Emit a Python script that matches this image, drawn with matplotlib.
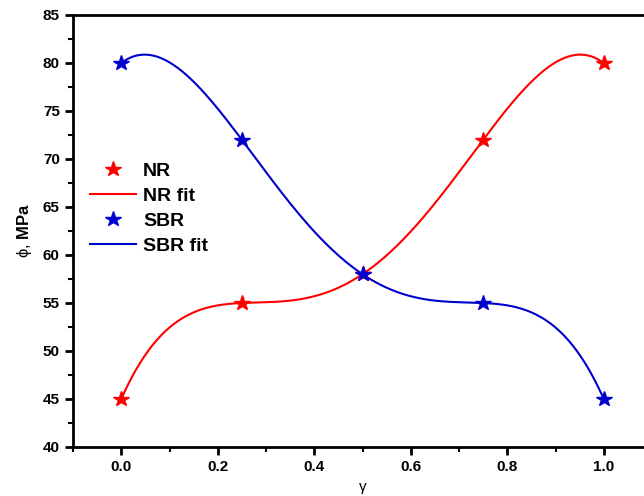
import numpy as np
import matplotlib
matplotlib.use("Agg")
import matplotlib.pyplot as plt
from matplotlib.ticker import MultipleLocator

gamma = [0.0, 0.25, 0.5, 0.75, 1.0]
nr = [45, 55, 58, 72, 80]
sbr = [80, 72, 58, 55, 45]

plt.rcParams['font.family'] = ['Liberation Sans', 'DejaVu Sans']
plt.rcParams['mathtext.fontset'] = 'custom'
plt.rcParams['mathtext.rm'] = 'Liberation Sans'
plt.rcParams['mathtext.bf'] = 'Liberation Sans:bold'

fig = plt.figure(figsize=(6.44, 4.96), dpi=100)
ax = fig.add_axes([73/644, 1 - 447/496, (652 - 73)/644, (447 - 15)/496])

xs = np.linspace(0, 1, 300)
p_nr = np.polyfit(gamma, nr, 4)
p_sbr = np.polyfit(gamma, sbr, 4)

ax.plot(gamma, nr, linestyle='none', marker='*', color='#ff0000', markersize=11.5, label='NR', zorder=3)
ax.plot(xs, np.polyval(p_nr, xs), color='#ff0000', lw=1.5, label='NR fit')
ax.plot(gamma, sbr, linestyle='none', marker='*', color='#0000cc', markersize=11.5, label='SBR', zorder=3)
ax.plot(xs, np.polyval(p_sbr, xs), color='#0000cc', lw=1.5, label='SBR fit')

ax.set_xlim(-0.1, 1.1)
ax.set_ylim(40, 85)
ax.xaxis.set_minor_locator(MultipleLocator(0.1))
ax.yaxis.set_major_locator(MultipleLocator(5))
ax.yaxis.set_minor_locator(MultipleLocator(2.5))
ax.set_xticks([0.0, 0.2, 0.4, 0.6, 0.8, 1.0])
ax.set_xticklabels(['0.0', '0.2', '0.4', '0.6', '0.8', '1.0'])

for s in ax.spines.values():
    s.set_linewidth(2)
ax.tick_params(which='major', direction='out', length=6, width=2, labelsize=11)
ax.tick_params(which='minor', direction='out', length=3.5, width=1.5)
for lab in ax.get_xticklabels() + ax.get_yticklabels():
    lab.set_fontweight('bold')

ax.set_xlabel('γ', fontsize=11, labelpad=4)
ax.set_ylabel(r'ϕ, $\mathbf{MPa}$', fontsize=12, labelpad=6)

leg = ax.legend(loc='upper left', bbox_to_anchor=(0.005, 0.69), frameon=False,
                prop={'weight': 'bold', 'size': 14}, handlelength=2.4,
                handletextpad=0.36, labelspacing=0.38, borderaxespad=0.3)

fig.savefig('out.png', dpi=100)
